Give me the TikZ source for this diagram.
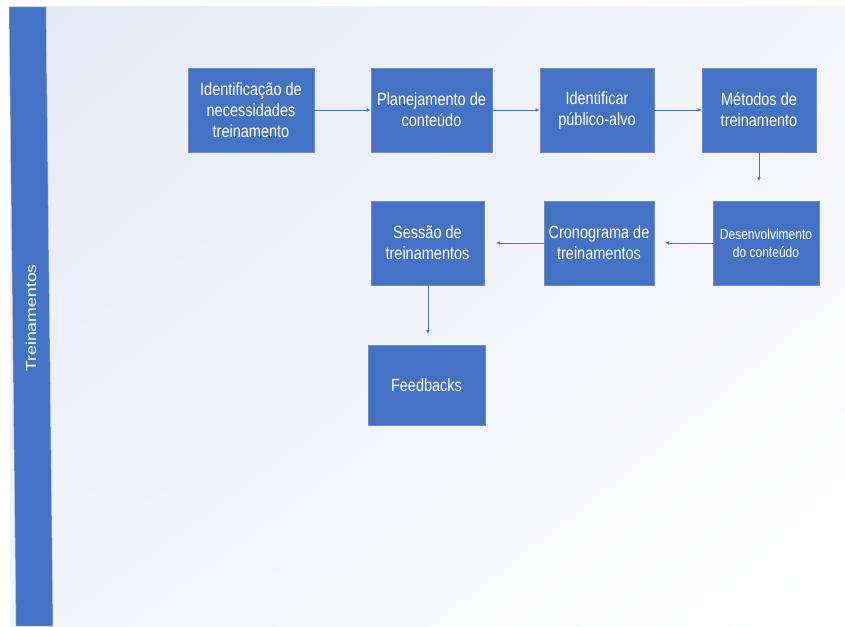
\documentclass[tikz,border=0pt]{standalone}
\usepackage{fontspec}
\usepackage{graphicx}
\setmainfont{Liberation Sans}
\usetikzlibrary{arrows.meta,shadings}
\definecolor{boxblue}{RGB}{68,114,196}
\definecolor{bgtl}{RGB}{229,232,245}
\definecolor{bgtr}{RGB}{244,245,251}
\definecolor{bgbl}{RGB}{242,244,251}
\newcommand\tline[1]{\scalebox{1}[1.22]{#1}}
\tikzset{
  stage/.style={rectangle, fill=boxblue, draw=boxblue!80!white, line width=0.6pt, text=white,
    align=center, inner sep=2pt, font=\fontsize{14.5}{21}\selectfont},
  flow/.style={draw=boxblue, line width=0.7pt, -{Latex[length=4pt,width=3.5pt]}}
}
\begin{document}
\begin{tikzpicture}[x=1pt,y=-1pt]
\useasboundingbox (0,0) rectangle (845,626);
\fill[white] (0,0) rectangle (845,626);
\shade[upper left=bgtl, upper right=bgtr, lower left=bgbl, lower right=white] (10,7) rectangle (845,626);
\fill[boxblue, draw=gray!40, line width=0.5pt] (9,7) -- (46,7) -- (53,626) -- (16,626) -- cycle;
\node[rotate=90, text=white, font=\fontsize{14.5}{16}\selectfont] (lane) at (31,318) {\scalebox{1.22}[1]{Treinamentos}};

\node[stage, minimum width=126pt, minimum height=84pt] (b1) at (251,110) {\tline{Identificação de}\\\tline{necessidades}\\\tline{treinamento}};
\node[stage, minimum width=121pt, minimum height=84pt] (b2) at (431.5,110) {\tline{Planejamento de}\\\tline{conteúdo}};
\node[stage, minimum width=114pt, minimum height=84pt] (b3) at (597,110) {\tline{Identificar}\\\tline{público-alvo}};
\node[stage, minimum width=114pt, minimum height=84pt] (b4) at (759,110) {\tline{Métodos de}\\\tline{treinamento}};
\node[stage, minimum width=106pt, minimum height=84pt, font=\fontsize{12}{18}\selectfont] (b5) at (766,243) {\tline{Desenvolvimento}\\\tline{do conteúdo}};
\node[stage, minimum width=110pt, minimum height=84pt] (b6) at (599,243) {\tline{Cronograma de}\\\tline{treinamentos}};
\node[stage, minimum width=113pt, minimum height=84pt] (b7) at (427.5,243) {\tline{Sessão de}\\\tline{treinamentos}};
\node[stage, minimum width=117pt, minimum height=80pt] (b8) at (426.5,385) {\tline{Feedbacks}};

\coordinate (e45) at (759,181);
\coordinate (e56) at (665,243);
\coordinate (e67) at (496,243);
\coordinate (e78) at (428,334);

\draw[flow] (b1.east) -- (b2.west);
\draw[flow] (b2.east) -- (b3.west);
\draw[flow] (b3.east) -- (b4.west);
\draw[flow] (b4.south) -- (e45);
\draw[flow] (b5.west) -- (e56);
\draw[flow] (b6.west) -- (e67);
\draw[flow] (b7.south -| e78) -- (e78);
\end{tikzpicture}
\end{document}
